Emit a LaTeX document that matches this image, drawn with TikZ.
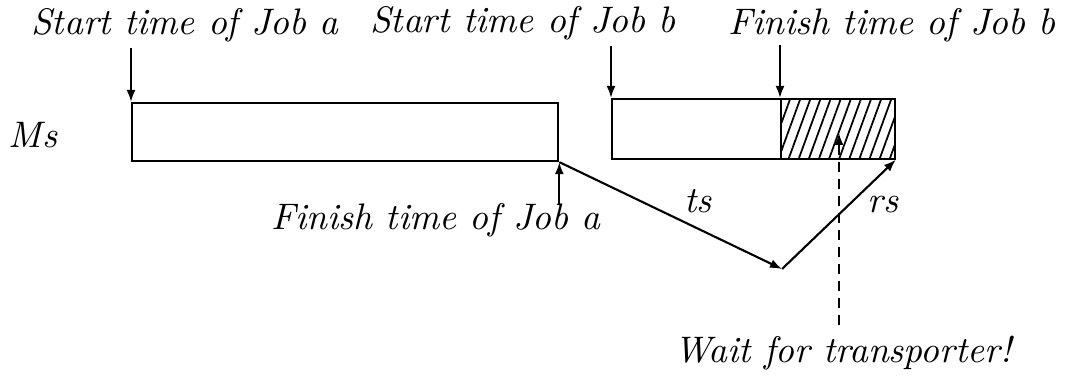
\documentclass[tikz,border=0pt]{standalone}
\usepackage{amsmath, amssymb}
\usepackage{tikz}
\usetikzlibrary{arrows.meta, positioning, patterns.meta}

\begin{document}
\begin{tikzpicture}[
  x=0.01cm, y=-0.01cm,
  font=\fontsize{10.5}{12}\selectfont\itshape,
  box/.style={draw, line width=0.6pt, inner sep=0pt, anchor=north west},
  arrow/.style={-{Latex[length=1.2mm,width=0.9mm]}, line width=0.6pt},
  txt/.style={anchor=base, inner sep=0pt}
]
\useasboundingbox (0,0) rectangle (1067,380);

% Nodes
\node[box, minimum width=4.26cm, minimum height=0.58cm] (ja) at (131,102) {};
\node[box, minimum width=1.69cm, minimum height=0.60cm] (jb) at (611,98) {};
\node[box, minimum width=1.14cm, minimum height=0.60cm,
      pattern={Lines[angle=70,distance=0.95mm,line width=0.5pt]}] (wait) at (780,98) {};

\node[txt] (ms) at (33,148) {Ms};
\node[txt] (sa) at (185,35) {Start time of Job a};
\node[txt] (sb) at (523,33) {Start time of Job b};
\node[txt] (fb) at (892,35) {Finish time of Job b};
\node[txt] (fa) at (436,230) {Finish time of Job a};
\node[txt] (wt) at (843,363) {Wait for transporter!};
\node[txt] (ts) at (698,213) {ts};
\node[txt] (rs) at (883,213) {rs};

\coordinate (sa-in) at ([yshift=0.54cm]ja.north west);
\coordinate (sb-in) at ([yshift=0.52cm]jb.north west);
\coordinate (fb-in) at ([yshift=0.53cm]wait.north west);
\coordinate (fa-in) at ([yshift=-0.42cm]ja.south east);
\coordinate (trans) at (782,269);
\coordinate (wt-top) at (839,325);
\coordinate (wt-end) at (839,133);

% Pointers
\draw[arrow] (sa-in) -- (ja.north west);
\draw[arrow] (sb-in) -- (jb.north west);
\draw[arrow] (fb-in) -- (wait.north west);
\draw[arrow] (fa-in) -- (ja.south east);
\draw[arrow] (ja.south east) -- (trans);
\draw[arrow] (trans) -- (wait.south east);
\draw[arrow, dash pattern=on 1mm off 0.7mm] (wt-top) -- (wt-end);
\end{tikzpicture}
\end{document}
